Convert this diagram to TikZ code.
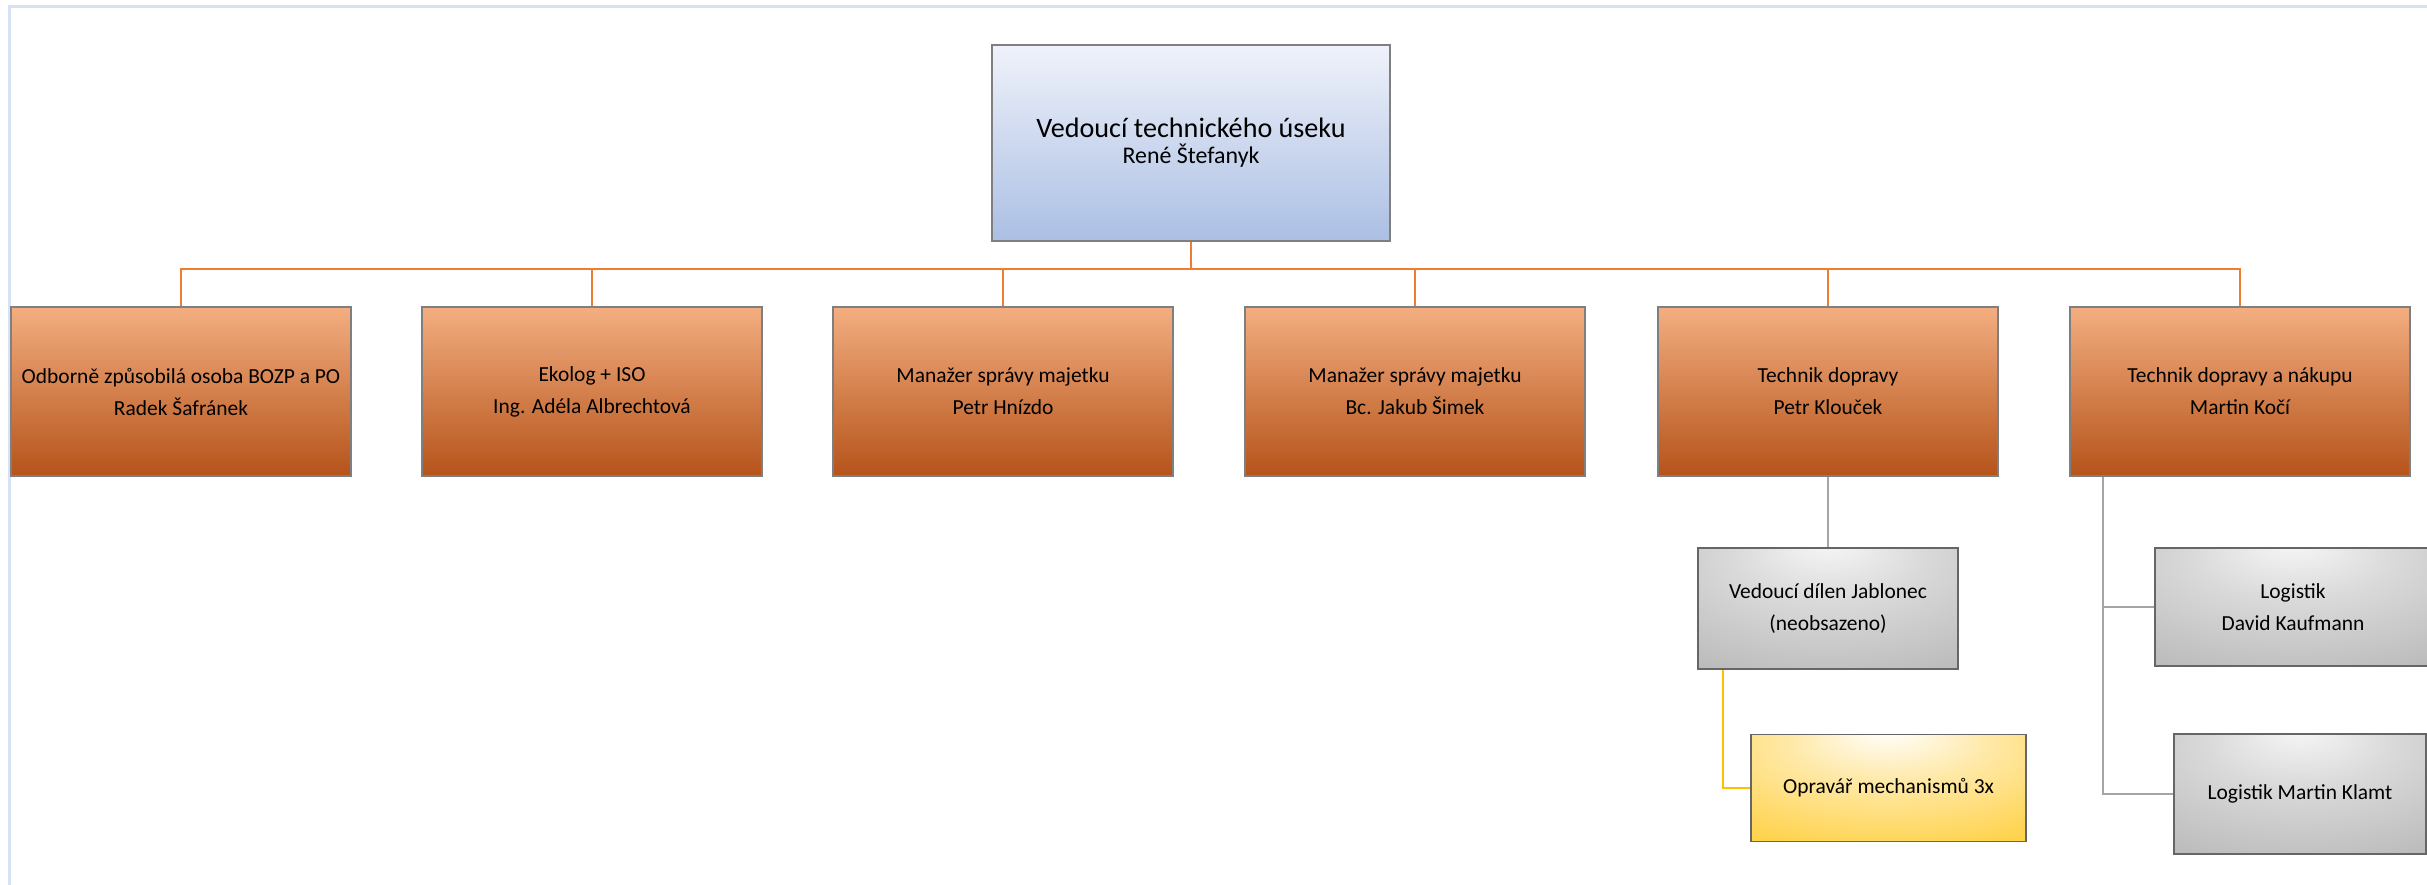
\documentclass[tikz,border=0pt]{standalone}
\usepackage{fontspec}
\setmainfont{Carlito}
\definecolor{frameblue}{HTML}{D9E2F3}
\definecolor{orline}{HTML}{ED7D31}
\definecolor{grline}{HTML}{A5A5A5}
\definecolor{yeline}{HTML}{FFC000}
\definecolor{bxborder}{HTML}{7F7F7F}
\definecolor{ortop}{HTML}{F3AE80}
\definecolor{ormid}{HTML}{EC7E38}
\definecolor{orbot}{HTML}{B5531A}
\definecolor{bltop}{HTML}{EFF2FA}
\definecolor{blmid}{HTML}{C3D0EC}
\definecolor{blbot}{HTML}{ABBFE4}
\definecolor{gr0}{HTML}{F7F7F7}
\definecolor{gr1}{HTML}{DADADA}
\definecolor{gr2}{HTML}{BDBDBD}
\definecolor{gr3}{HTML}{A3A3A3}
\definecolor{ye0}{HTML}{FFFFFF}
\definecolor{ye1}{HTML}{FFE9A8}
\definecolor{ye2}{HTML}{FFD34D}
\definecolor{ye3}{HTML}{FFC000}
\pgfdeclareradialshading{grayglow}{\pgfpoint{0bp}{28bp}}{color(0bp)=(gr0); color(18bp)=(gr1); color(42bp)=(gr2); color(75bp)=(gr3)}
\pgfdeclareradialshading{yellowglow}{\pgfpoint{0bp}{28bp}}{color(0bp)=(ye0); color(18bp)=(ye1); color(42bp)=(ye2); color(75bp)=(ye3)}
\tikzset{
  basebox/.style={draw=bxborder, line width=0.5pt, align=center, inner sep=0pt},
  topbox/.style={basebox, top color=bltop, middle color=blmid, bottom color=blbot, minimum width=3.98cm, minimum height=1.96cm, font=\fontsize{8}{7.4}\selectfont},
  orbox/.style={basebox, top color=ortop, middle color=ormid, bottom color=orbot, minimum width=3.40cm, minimum height=1.69cm, font=\fontsize{6.1}{9.1}\selectfont},
  grbox/.style={basebox, draw=gray!80!black, shading=grayglow, font=\fontsize{6.1}{9.1}\selectfont},
  yebox/.style={basebox, draw=gray!80!black, shading=yellowglow, font=\fontsize{6.1}{9.1}\selectfont},
  oline/.style={draw=orline, line width=0.75pt},
  gline/.style={draw=grline, line width=0.8pt},
  yline/.style={draw=yeline, line width=0.8pt},
}
\begin{document}
\begin{tikzpicture}[x=0.01cm, y=-0.01cm]
\useasboundingbox (0,0) rectangle (2427,885);
\clip (0,0) rectangle (2427,885);
\fill[white] (0,0) rectangle (2427,885);
\draw[frameblue, line width=0.6pt] (9.5,900) -- (9.5,6.5) -- (2440,6.5);

\node[topbox] (top) at (1191,143) {Vedoucí technického úseku\\{\fontsize{6.8}{7.4}\selectfont René Štefanyk}};

\node[orbox] (o1) at (181,391.5) {Odborně způsobilá osoba BOZP a PO\\Radek Šafránek};
\node[orbox] (o2) at (592,391.5) {Ekolog + ISO\\Ing. Adéla Albrechtová};
\node[orbox] (o3) at (1003,391.5) {Manažer správy majetku\\Petr Hnízdo};
\node[orbox] (o4) at (1415,391.5) {Manažer správy majetku\\Bc. Jakub Šimek};
\node[orbox] (o5) at (1828,391.5) {Technik dopravy\\Petr Klouček};
\node[orbox] (o6) at (2240,391.5) {Technik dopravy a nákupu\\Martin Kočí};

\node[grbox, minimum width=2.60cm, minimum height=1.21cm] (vd) at (1828,608.5) {Vedoucí dílen Jablonec\\(neobsazeno)};
\node[yebox, minimum width=2.75cm, minimum height=1.07cm] (op) at (1888.5,788) {Opravář mechanismů 3x};
\node[grbox, minimum width=2.76cm, minimum height=1.18cm] (ld) at (2293,607) {Logistik\\David Kaufmann};
\node[grbox, minimum width=2.52cm, minimum height=1.20cm] (lk) at (2300,794) {Logistik Martin Klamt};

\coordinate (bus) at (1191,269);
\draw[oline] (top.south) -- (bus);
\draw[oline] (o1.north) -- (o1.north |- bus) -- (o6.north |- bus) -- (o6.north);
\draw[oline] (o2.north) -- (o2.north |- bus);
\draw[oline] (o3.north) -- (o3.north |- bus);
\draw[oline] (o4.north) -- (o4.north |- bus);
\draw[oline] (o5.north) -- (o5.north |- bus);

\draw[gline] (o5.south) -- (vd.north);
\draw[yline] ([xshift=0.26cm]vd.south west) |- (op.west);
\coordinate (lk6) at ([xshift=0.34cm]o6.south west);
\draw[gline] (lk6) |- (lk.west);
\draw[gline] (lk6 |- ld.west) -- (ld.west);
\end{tikzpicture}
\end{document}
